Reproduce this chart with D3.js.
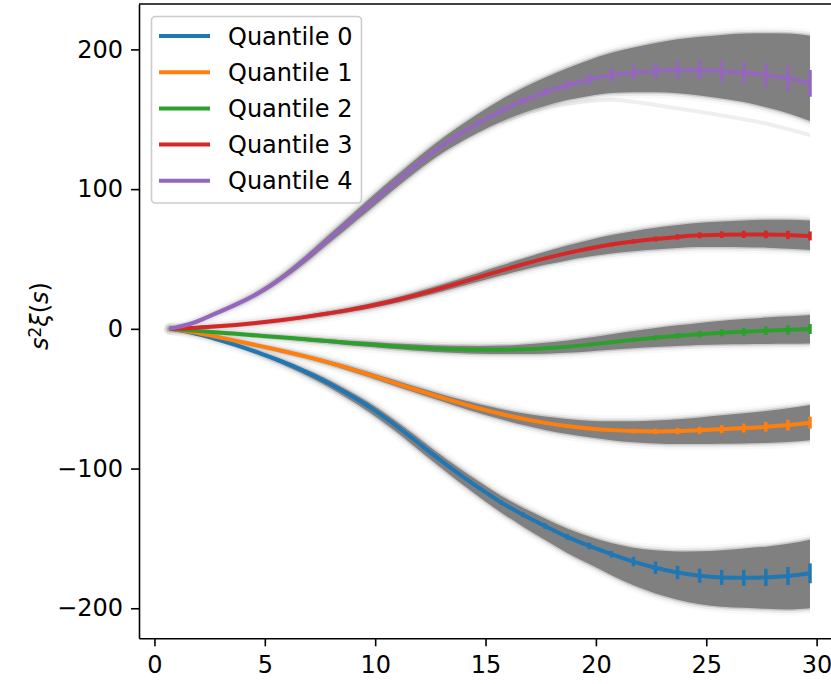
<!DOCTYPE html>
<html>
<head>
<meta charset="utf-8">
<script src="https://cdn.jsdelivr.net/npm/d3@7"></script>
<style>
  body { margin: 0; background: #fff; }
  text { font-family: "DejaVu Sans", sans-serif; }
</style>
</head>
<body>
<div id="chart"></div>
<script>
const width = 831;
const height = 684;

// separation bins
const s = [0.7, 1.7, 2.7, 3.7, 4.7, 5.7, 6.7, 7.7, 8.7, 9.7,
  10.7, 11.7, 12.7, 13.7, 14.7, 15.7, 16.7, 17.7, 18.7, 19.7,
  20.7, 21.7, 22.7, 23.7, 24.7, 25.7, 26.7, 27.7, 28.7, 29.7];

const names = ["Quantile 0", "Quantile 1", "Quantile 2", "Quantile 3", "Quantile 4"];
const colors = ["#1f77b4", "#ff7f0e", "#2ca02c", "#d62728", "#9467bd"];

// mean s^2 xi(s) per quantile
const q0 = [0, -2.8, -6.9, -11.6, -17.0, -23.0, -29.7, -37.3, -46.0, -55.5,
  -66.5, -78.5, -90.9, -102.7, -113.8, -124.2, -133.1, -141.2, -148.9, -155.4,
  -161.3, -166.6, -171.0, -174.4, -176.7, -177.9, -178.2, -177.9, -176.9, -175.0];
const q1 = [0, -2.2, -5.3, -8.6, -12.0, -15.5, -19.2, -23.3, -27.8, -32.7,
  -37.8, -42.9, -47.8, -52.5, -56.9, -60.9, -64.4, -67.3, -69.6, -71.3,
  -72.5, -73.2, -73.4, -73.2, -72.6, -71.8, -71.0, -70.1, -68.9, -67.2];
const q2 = [0, -1.2, -2.4, -3.6, -4.8, -6.0, -7.3, -8.6, -9.9, -11.1,
  -12.3, -13.3, -14.1, -14.7, -15.0, -15.0, -14.7, -13.9, -12.8, -11.3,
  -9.6, -7.9, -6.4, -5.0, -3.8, -2.8, -2.0, -1.3, -0.7, -0.1];
const q3 = [0, 0.6, 1.6, 2.8, 4.3, 6.1, 8.2, 10.6, 13.2, 16.2,
  19.6, 23.5, 27.8, 32.3, 37.0, 41.7, 46.2, 50.4, 54.2, 57.5,
  60.3, 62.5, 64.3, 65.8, 66.9, 67.4, 67.6, 67.6, 67.2, 66.5];
const q4 = [0, 4.0, 10.5, 17.5, 25.5, 35.8, 48.0, 61.5, 75.0, 88.5,
  102.0, 115.0, 127.3, 138.0, 147.5, 156.0, 163.3, 169.3, 174.5, 178.5,
  181.6, 183.3, 184.6, 185.2, 185.0, 184.4, 183.3, 181.6, 179.3, 175.7];

// error bar half-lengths
const err0 = [0, 0.1, 0.1, 0.2, 0.3, 0.3, 0.4, 0.5, 0.6, 0.7,
  0.8, 0.9, 1.0, 1.1, 1.3, 1.5, 1.7, 1.9, 2.1, 2.3,
  2.3, 3.4, 4.4, 4.8, 5.1, 5.4, 5.7, 6.2, 6.4, 7.1];
const err1 = [0, 0, 0.1, 0.1, 0.2, 0.2, 0.3, 0.3, 0.4, 0.4,
  0.5, 0.5, 0.6, 0.7, 0.8, 0.9, 1.0, 1.1, 1.2, 1.3,
  1.4, 1.7, 2.0, 2.3, 2.6, 2.9, 3.2, 3.5, 3.9, 4.3];
const err2 = [0, 0, 0.1, 0.1, 0.1, 0.2, 0.2, 0.3, 0.3, 0.4,
  0.4, 0.5, 0.5, 0.6, 0.7, 0.8, 0.9, 1.0, 1.1, 1.3,
  1.4, 1.7, 1.9, 2.1, 2.4, 2.6, 2.9, 3.1, 3.4, 3.6];
const err3 = [0, 0, 0.1, 0.1, 0.1, 0.2, 0.2, 0.3, 0.3, 0.4,
  0.4, 0.5, 0.5, 0.6, 0.7, 0.8, 0.9, 1.0, 1.1, 1.2,
  1.4, 1.6, 1.8, 2.0, 2.2, 2.4, 2.6, 2.8, 3.0, 3.2];
const err4 = [0, 0.1, 0.2, 0.3, 0.4, 0.5, 0.6, 0.8, 1.0, 1.2,
  1.4, 1.6, 1.8, 2.0, 2.2, 2.4, 2.8, 3.2, 3.7, 4.2,
  5.0, 5.6, 5.7, 6.4, 7.2, 7.5, 7.9, 8.6, 9.3, 9.6];

// spread of the mock realisations (above / below the mean)
const hi0 = [0, 0.3, 0.6, 0.9, 1.2, 1.5, 1.8, 2.2, 2.6, 3.0,
  3.3, 3.6, 3.9, 4.2, 4.5, 4.8, 5.1, 5.5, 6.0, 6.8,
  8.0, 10.0, 12.5, 15.0, 17.5, 19.5, 21.0, 22.0, 23.0, 24.0];
const lo0 = [0, 0.3, 0.6, 1.0, 1.4, 1.8, 2.3, 2.8, 3.3, 3.8,
  4.2, 4.6, 5.0, 5.6, 6.3, 7.2, 8.5, 10.0, 11.5, 13.0,
  15.0, 17.0, 18.5, 19.5, 20.5, 21.0, 21.5, 22.5, 24.0, 25.0];
const hi1 = [0, 0.2, 0.4, 0.6, 0.8, 1.0, 1.2, 1.4, 1.6, 1.8,
  2.0, 2.2, 2.4, 2.7, 3.1, 3.5, 4.0, 4.5, 5.0, 5.5,
  6.3, 7.0, 7.8, 8.5, 9.2, 9.9, 10.6, 11.3, 12.0, 12.6];
const lo1 = [0, 0.2, 0.4, 0.6, 0.8, 1.0, 1.2, 1.4, 1.6, 1.8,
  2.0, 2.2, 2.5, 2.9, 3.4, 3.9, 4.5, 5.1, 5.7, 6.3,
  7.2, 8.0, 8.7, 9.3, 9.9, 10.5, 11.0, 11.6, 12.1, 12.5];
const hi2 = [0, 0.2, 0.4, 0.6, 0.8, 1.0, 1.2, 1.4, 1.6, 1.8,
  2.0, 2.2, 2.4, 2.6, 2.8, 3.0, 3.4, 3.9, 4.5, 5.1,
  5.8, 6.4, 7.0, 7.5, 8.0, 8.5, 9.0, 9.4, 9.7, 10.0];
const lo2 = [0, 0.2, 0.4, 0.6, 0.8, 1.0, 1.2, 1.4, 1.6, 1.8,
  2.0, 2.2, 2.4, 2.6, 2.8, 3.0, 3.4, 3.9, 4.4, 4.9,
  5.4, 6.0, 6.6, 7.2, 7.8, 8.4, 9.0, 9.5, 10.0, 10.4];
const hi3 = [0, 0.2, 0.4, 0.6, 0.8, 1.0, 1.2, 1.4, 1.6, 1.8,
  2.0, 2.2, 2.5, 2.8, 3.2, 3.6, 4.1, 4.7, 5.4, 6.1,
  6.8, 7.4, 8.0, 8.5, 9.0, 9.5, 10.0, 10.4, 10.8, 11.0];
const lo3 = [0, 0.2, 0.4, 0.6, 0.8, 1.0, 1.2, 1.4, 1.6, 1.8,
  2.0, 2.2, 2.5, 2.8, 3.2, 3.6, 4.1, 4.6, 5.2, 5.8,
  6.4, 7.0, 7.5, 8.0, 8.4, 8.8, 9.2, 9.5, 9.8, 10.0];
const hi4 = [0, 0.3, 0.7, 1.1, 1.5, 2.0, 2.5, 3.0, 3.5, 4.0,
  4.3, 4.6, 5.0, 5.8, 6.8, 8.0, 9.3, 10.6, 12.0, 14.0,
  16.0, 18.0, 20.0, 22.0, 24.0, 26.0, 28.0, 30.0, 32.0, 34.0];
const lo4 = [0, 0.3, 0.7, 1.1, 1.5, 2.0, 2.5, 3.0, 3.5, 4.0,
  4.3, 4.6, 5.0, 5.8, 6.8, 7.8, 8.8, 9.8, 10.8, 11.8,
  12.8, 14.0, 15.3, 16.6, 18.0, 19.5, 21.0, 23.0, 25.0, 27.0];

// one low stray realisation of quantile 4
const strayS = [15.7, 16.7, 17.7, 18.7, 19.7, 20.7, 21.7, 22.7, 23.7, 24.7, 25.7, 26.7, 27.7, 28.7, 29.7];
const stray4 = [147.5, 153.5, 158.0, 161.0, 163.0, 164.0, 162.5, 160.2, 157.8, 155.4, 152.8, 150.0, 147.0, 143.0, 138.7];

const xTicks = [0, 5, 10, 15, 20, 25, 30];
const yTicks = [-200, -100, 0, 100, 200];

const means = [q0, q1, q2, q3, q4];
const errs = [err0, err1, err2, err3, err4];
const his = [hi0, hi1, hi2, hi3, hi4];
const los = [lo0, lo1, lo2, lo3, lo4];

const series = names.map((name, i) => ({
  name,
  color: colors[i],
  points: s.map((sv, k) => ({
    s: sv, v: means[i][k], e: errs[i][k],
    hi: means[i][k] + his[i][k], lo: means[i][k] - los[i][k]
  }))
}));

const mLeft = 139, mRight = 842, mTop = 4, mBottom = 638.3;

const x = d3.scaleLinear().domain([-0.70, 31.15]).range([mLeft, mRight]);
const y = d3.scaleLinear().domain([-221.5, 232.5]).range([mBottom, mTop]);

const svg = d3.select("#chart")
  .append("svg")
  .attr("width", width)
  .attr("height", height);

// keep the band halos from spilling past the last bin
svg.append("clipPath").attr("id", "bandclip")
  .append("rect")
  .attr("x", 0).attr("y", 0)
  .attr("width", x(s[s.length - 1]))
  .attr("height", height);

// bands (soft edges = stacked translucent strokes)
const area = d3.area()
  .x(d => x(d.s))
  .y0(d => y(d.lo))
  .y1(d => y(d.hi))
  .curve(d3.curveMonotoneX);

const halo = [[12, 0.05], [7, 0.12], [3, 0.3]];
const bands = svg.append("g").attr("clip-path", "url(#bandclip)");

bands.append("path")
  .datum(strayS.map((sv, k) => ({ s: sv, v: stray4[k] })))
  .attr("d", d3.line().x(d => x(d.s)).y(d => y(d.v)).curve(d3.curveMonotoneX))
  .attr("fill", "none")
  .attr("stroke", "#808080")
  .attr("stroke-opacity", 0.13)
  .attr("stroke-width", 4);

series.forEach(sr => {
  halo.forEach(([w, o]) => {
    bands.append("path").datum(sr.points)
      .attr("d", area)
      .attr("fill", "none")
      .attr("stroke", "#808080")
      .attr("stroke-opacity", o)
      .attr("stroke-width", w)
      .attr("stroke-linejoin", "round");
  });
  bands.append("path").datum(sr.points)
    .attr("d", area)
    .attr("fill", "#808080");
});

// mean lines + errorbars
const line = d3.line()
  .x(d => x(d.s))
  .y(d => y(d.v))
  .curve(d3.curveMonotoneX);

series.forEach(sr => {
  const g = svg.append("g");
  g.append("path").datum(sr.points)
    .attr("d", line)
    .attr("fill", "none")
    .attr("stroke", sr.color)
    .attr("stroke-width", 4)
    .attr("stroke-linejoin", "round");
  g.selectAll("line.err")
    .data(sr.points)
    .join("line")
    .attr("class", "err")
    .attr("x1", d => x(d.s))
    .attr("x2", d => x(d.s))
    .attr("y1", d => y(d.v - d.e))
    .attr("y2", d => y(d.v + d.e))
    .attr("stroke", sr.color)
    .attr("stroke-width", 3.5);
});

// axes
const fmt = d => d < 0 ? "\u2212" + Math.abs(d) : String(d);

const yAxis = svg.append("g")
  .attr("transform", `translate(${mLeft},0)`)
  .call(d3.axisLeft(y).tickValues(yTicks).tickFormat(fmt)
    .tickSize(8).tickSizeOuter(0).tickPadding(8));

const xAxis = svg.append("g")
  .attr("transform", `translate(0,${mBottom})`)
  .call(d3.axisBottom(x).tickValues(xTicks).tickFormat(fmt)
    .tickSize(8).tickSizeOuter(0).tickPadding(10));

[yAxis, xAxis].forEach(a => {
  a.selectAll("text")
    .style("font-family", "DejaVu Sans")
    .style("font-size", "24px")
    .attr("fill", "#000");
  a.selectAll("line").attr("stroke", "#000").attr("stroke-width", 1.6);
  a.select(".domain").attr("stroke", "#000").attr("stroke-width", 1.6);
});

// top + right spines
svg.append("line")
  .attr("x1", mLeft).attr("x2", mRight)
  .attr("y1", mTop).attr("y2", mTop)
  .attr("stroke", "#000").attr("stroke-width", 1.6);
svg.append("line")
  .attr("x1", mRight).attr("x2", mRight)
  .attr("y1", mTop).attr("y2", mBottom)
  .attr("stroke", "#000").attr("stroke-width", 1.6);

// y label
const ylab = svg.append("text")
  .attr("transform", "translate(48,316) rotate(-90)")
  .attr("text-anchor", "middle")
  .style("font-size", "24px")
  .attr("fill", "#000");
ylab.append("tspan").style("font-style", "italic").text("s");
ylab.append("tspan").attr("baseline-shift", "40%").style("font-size", "17px").text("2");
ylab.append("tspan").style("font-style", "italic").text("\u03be");
ylab.append("tspan").text("(");
ylab.append("tspan").style("font-style", "italic").text("s");
ylab.append("tspan").text(")");

// legend
const legend = svg.append("g").attr("class", "legend");
legend.append("rect")
  .attr("x", 151.5).attr("y", 16.5)
  .attr("width", 210).attr("height", 186.5)
  .attr("rx", 4)
  .attr("fill", "#fff").attr("fill-opacity", 0.8)
  .attr("stroke", "#cccccc").attr("stroke-width", 1.6);

series.forEach((sr, i) => {
  const ly = 36 + i * 36.2;
  legend.append("line")
    .attr("x1", 159).attr("x2", 210)
    .attr("y1", ly).attr("y2", ly)
    .attr("stroke", sr.color)
    .attr("stroke-width", 4);
  legend.append("text")
    .attr("x", 228)
    .attr("y", ly + 8.5)
    .style("font-size", "24px")
    .attr("fill", "#000")
    .text(sr.name);
});
</script>
</body>
</html>
